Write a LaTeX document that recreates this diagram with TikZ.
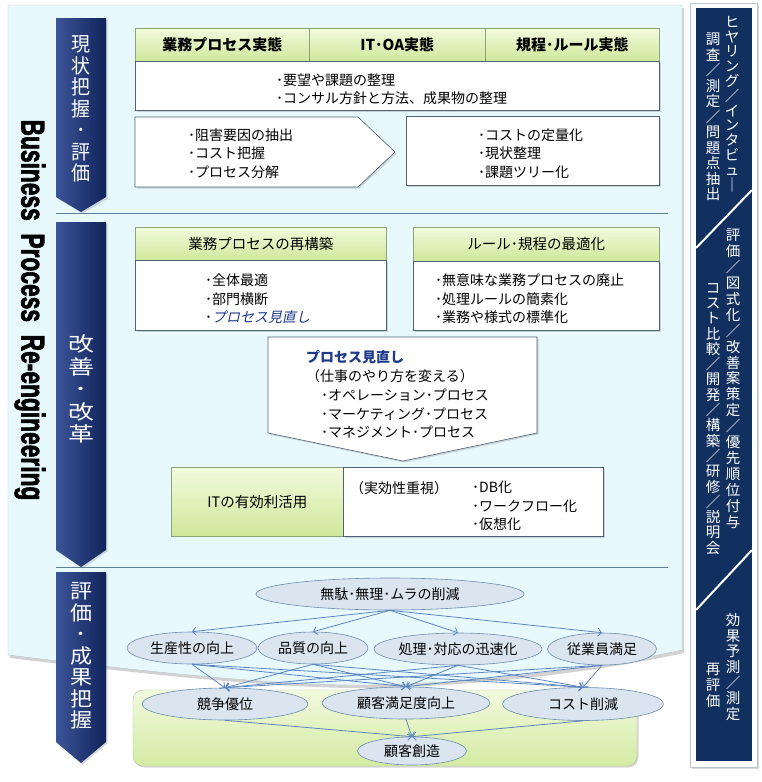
\documentclass[tikz,border=0pt]{standalone}
\usepackage{fontspec}
\usepackage{graphicx}
\setmainfont{Noto Sans CJK JP}[AutoFakeSlant=0.22]
\newfontfamily\bprfont{Liberation Sans}[FakeBold=2.5]
\usetikzlibrary{positioning,arrows.meta,calc,shapes.geometric,shadows}
\definecolor{navy}{HTML}{13296B}
\definecolor{navylight}{HTML}{3C5598}
\definecolor{sidenavy}{HTML}{12305F}
\definecolor{panelfill}{HTML}{E8F9FD}
\definecolor{panelline}{HTML}{B9C6CC}
\definecolor{greentop}{HTML}{F2FADD}
\definecolor{greenbot}{HTML}{CFE89A}
\definecolor{headline}{HTML}{8CA37A}
\definecolor{boxline}{HTML}{4F6276}
\definecolor{sepline}{HTML}{5F7E9A}
\definecolor{ellfill}{HTML}{DAE5EF}
\definecolor{ellline}{HTML}{6E8DAE}
\definecolor{linkc}{HTML}{5A86C2}
\definecolor{italblue}{HTML}{1E3A8C}
\tikzset{
    x=1pt,
    y=-1pt,
    softshadow/.style = {
        drop shadow={shadow xshift=1.5pt, shadow yshift=-1.5pt, opacity=0.3}
    },
    head/.style = {
        draw=headline,
        top color=greentop,
        bottom color=greenbot,
        anchor=north west,
        inner sep=0pt,
        minimum height=33,
        line width=0.6pt,
        font=\fontsize{14.5}{17}\selectfont
    },
    box/.style = {
        draw=boxline,
        fill=white,
        anchor=north west,
        inner sep=0pt,
        line width=0.6pt,
        softshadow
    },
    txt/.style = {
        anchor=west,
        align=left,
        inner sep=0pt,
        font=\fontsize{14}{18.5}\selectfont
    },
    stage/.style = {
        left color=navylight,
        middle color=navy,
        right color=navy!85!black,
        softshadow
    },
    stagetxt/.style = {
        text=white,
        align=center,
        inner sep=0pt,
        font=\fontsize{20}{21.5}\selectfont
    },
    vcol/.style = {
        text=white,
        align=center,
        anchor=north,
        inner sep=0pt,
        font=\fontsize{14.5}{15.5}\selectfont
    },
    goal/.style = {
        ellipse,
        draw=ellline,
        fill=ellfill,
        inner sep=0pt,
        line width=0.6pt,
        font=\fontsize{14}{16}\selectfont
    },
    link/.style = {
        ->,
        draw=linkc,
        line width=0.8pt
    },
    >={Straight Barb[length=3.5pt,width=8pt]},
}
\begin{document}
\begin{tikzpicture}
    \fill[white] (0,0) rectangle (761,782);
    \useasboundingbox (0,0) rectangle (761,782);

    % result area below the panel
    \path[draw=headline!70, top color=greentop, bottom color=greenbot!90, rounded corners=10pt, softshadow] (133,690) rectangle (637,766);

    % main panel with curled bottom
    \path[draw=panelline, fill=panelfill, drop shadow={shadow xshift=2pt, shadow yshift=-3pt, opacity=0.35}]
        (8,5) -- (682,5) -- (682,650)
        .. controls (600,668) and (480,683) .. (370,685)
        .. controls (280,686) and (150,672) .. (8,655) -- cycle;
    \path[draw=sepline, line width=0.7pt] (56,213) -- (668,213);
    \path[draw=sepline, line width=0.7pt] (56,567) -- (668,567);

    % stages
    \path[stage] (56,18) -- (106,18) -- (106,197) -- (81,212) -- (56,197) -- cycle;
    \path[stage] (56,222) -- (106,222) -- (106,550) -- (81,567) -- (56,550) -- cycle;
    \path[stage] (56,572) -- (106,572) -- (106,742) -- (81,763) -- (56,742) -- cycle;
    \node[stagetxt, xscale=0.95] (stagenow) at (81,109) {現\\状\\把\\握\\･\\評\\価};
    \node[stagetxt, xscale=1.3, font=\fontsize{20}{22.5}\selectfont] (stagefix) at (81,389) {改\\善\\･\\改\\革};
    \node[stagetxt, xscale=1.1] (stageeval) at (81,656) {評\\価\\･\\成\\果\\把\\握};

    \node[rotate=-90, inner sep=0pt, font=\bprfont\bfseries\fontsize{33}{33}\selectfont] (bpr) at (30,310)
        {\scalebox{0.69}[1]{Business\ \ Process\ \ Re-engineering}};

    % current state
    \node[head, minimum width=174, font=\bfseries\fontsize{15}{17}\selectfont] (bpreal) at (135,28) {業務プロセス実態};
    \node[head, minimum width=176, font=\bfseries\fontsize{15}{17}\selectfont] (itreal) at (309,28) {IT･OA実態};
    \node[head, minimum width=174, font=\bfseries\fontsize{15}{17}\selectfont] (rulereal) at (485,28) {規程･ルール実態};
    \node[box, minimum width=524, minimum height=49] (needs) at (135,61) {};
    \node[txt] (needstxt) at (276,89) {･要望や課題の整理\\･コンサル方針と方法、成果物の整理};
    \path[draw=boxline, fill=white, line width=0.6pt, softshadow] (135,117) -- (358,117) -- (395,152) -- (358,187) -- (135,187) -- cycle;
    \node[txt] (analysetxt) at (188,153.5) {･阻害要因の抽出\\･コスト把握\\･プロセス分解};
    \node[box, minimum width=253, minimum height=69] (costbox) at (406,116) {};
    \node[txt] (costtxt) at (478,153.5) {･コストの定量化\\･現状整理\\･課題ツリー化};

    % improvement
    \node[head, minimum width=251] (rebuild) at (135,227) {業務プロセスの再構築};
    \node[box, minimum width=251, minimum height=70] (rebuildbox) at (135,260) {};
    \node[txt] (rebuildtxt) at (205,299) {･全体最適\\･部門横断\\･{\itshape\color{italblue}プロセス見直し}};
    \node[head, minimum width=246, minimum height=34] (ruleopt) at (413,227) {ルール･規程の最適化};
    \node[box, minimum width=246, minimum height=69] (ruleoptbox) at (413,261) {};
    \node[txt] (ruleopttxt) at (435,299) {･無意味な業務プロセスの廃止\\･処理ルールの簡素化\\･業務や様式の標準化};
    \path[draw=boxline, fill=white, line width=0.6pt, softshadow] (268,337) -- (537,337) -- (537,433) -- (403,461) -- (268,433) -- cycle;
    \node[txt, font=\fontsize{14}{18.8}\selectfont] (reviewtxt) at (306,394.5)
        {{\itshape\bfseries\color{italblue}プロセス見直し}\\（仕事のやり方を変える）\\\hspace{15pt}･オペレーション･プロセス\\\hspace{15pt}･マーケティング･プロセス\\\hspace{15pt}･マネジメント･プロセス};
    \node[head, minimum width=172, minimum height=69] (ituse) at (171,467) {ITの有効利活用};
    \node[box, minimum width=260, minimum height=69] (itusebox) at (343,467) {};
    \node[txt] (effecttxt) at (350,488) {（実効性重視）};
    \node[txt] (itusetxt) at (472,506) {･DB化\\･ワークフロー化\\･仮想化};

    % evaluation
    \node[goal, minimum width=268, minimum height=32] (muda) at (390,594) {無駄･無理･ムラの削減};
    \node[goal, minimum width=130, minimum height=32] (seisan) at (192,648) {生産性の向上};
    \node[goal, minimum width=110, minimum height=32] (hinshitsu) at (313,648) {品質の向上};
    \node[goal, minimum width=167, minimum height=32] (jinsoku) at (458,649) {処理･対応の迅速化};
    \node[goal, minimum width=109, minimum height=32] (jugyoin) at (602,649) {従業員満足};
    \node[goal, minimum width=166, minimum height=32] (kyoso) at (225,704) {競争優位};
    \node[goal, minimum width=168, minimum height=32] (manzoku) at (406,703) {顧客満足度向上};
    \node[goal, minimum width=161, minimum height=33] (cost) at (583,704) {コスト削減};
    \node[goal, minimum width=109, minimum height=28] (sozo) at (412,751) {顧客創造};

    \path[draw, link] (muda.south) -- (seisan.north);
    \path[draw, link] (muda.south) -- (hinshitsu.north);
    \path[draw, link] (muda.south) -- (jinsoku.north);
    \path[draw, link] (muda.south) -- (jugyoin.north);
    \path[draw, link] (seisan.south) -- (kyoso.north);
    \path[draw, link] (seisan.south) -- (manzoku.north);
    \path[draw, link] (seisan.south) -- (cost.north);
    \path[draw, link] (hinshitsu.south) -- (kyoso.north);
    \path[draw, link] (hinshitsu.south) -- (manzoku.north);
    \path[draw, link] (hinshitsu.south) -- (cost.north);
    \path[draw, link] (jinsoku.south) -- (kyoso.north);
    \path[draw, link] (jinsoku.south) -- (manzoku.north);
    \path[draw, link] (jinsoku.south) -- (cost.north);
    \path[draw, link] (jugyoin.south) -- (kyoso.north);
    \path[draw, link] (jugyoin.south) -- (manzoku.north);
    \path[draw, link] (jugyoin.south) -- (cost.north);
    \path[draw, link] (kyoso.south) -- (sozo.north);
    \path[draw, link] (manzoku.south) -- (sozo.north);
    \path[draw, link] (cost.south) -- (sozo.north);

    % side column
    \path[draw=panelline, fill=white, softshadow] (690,3) rectangle (757,767);
    \fill[sidenavy] (696,8) rectangle (752,761);
    \path[draw=white, line width=2pt] (752,190) -- (696,248);
    \path[draw=white, line width=2pt] (752,550) -- (696,610);
    \node[vcol, font=\fontsize{14.5}{14.8}\selectfont] (hearing) at (732,16) {ヒ\\ヤ\\リ\\ン\\グ\\／\\イ\\ン\\タ\\ビ\\ュ\\｜};
    \node[vcol] (survey) at (713,33) {調\\査\\／\\測\\定\\／\\問\\題\\点\\抽\\出};
    \node[vcol, font=\fontsize{14.5}{15.9}\selectfont] (plan) at (733,229) {評\\価\\／\\図\\式\\化\\／\\改\\善\\案\\策\\定\\／\\優\\先\\順\\位\\付\\与};
    \node[vcol, font=\fontsize{14.5}{15.3}\selectfont] (build) at (713,283) {コ\\ス\\ト\\比\\較\\／\\開\\発\\／\\構\\築\\／\\研\\修\\／\\説\\明\\会};
    \node[vcol, font=\fontsize{14.5}{15.7}\selectfont] (forecast) at (733,613) {効\\果\\予\\測\\／\\測\\定};
    \node[vcol, font=\fontsize{14.5}{16}\selectfont] (reeval) at (713,663) {再\\評\\価};
\end{tikzpicture}
\end{document}
